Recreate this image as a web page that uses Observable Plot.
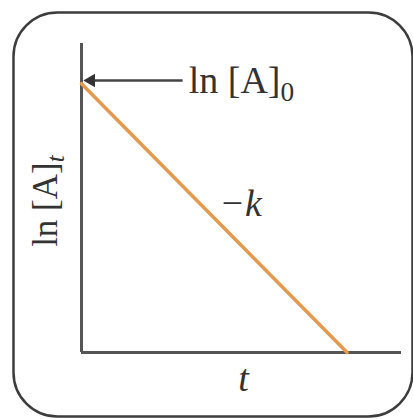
<!DOCTYPE html>
<html>
<head>
<meta charset="utf-8">
<script src="https://cdn.jsdelivr.net/npm/d3@7"></script>
<script src="https://cdn.jsdelivr.net/npm/@observablehq/plot@0.6"></script>
<style>
  html, body { margin: 0; padding: 0; background: #fff; }
</style>
</head>
<body>
<div id="chart"></div>
<script>
// Data: first-order kinetics, ln[A]t vs t (schematic, unitless)
const tValues = [0, 0.83];
const lnAValues = [0.87, 0];
const axisExtent = [0, 1];
const arrowFrom = [0.316, 0.88];
const arrowTo = [0.03, 0.88];
const interceptLabel = ["ln [A]0"];
const slopeLabel = ["\u2212k"];
const xLabel = ["t"];
const yLabel = ["ln [A]t"];

const line = tValues.map((t, i) => ({t, v: lnAValues[i]}));
const font = "Liberation Serif, Times New Roman, serif";
const axisColor = "#555";

const plot = Plot.plot({
  width: 413,
  height: 419,
  marginLeft: 13,
  marginRight: 1,
  marginTop: 12,
  marginBottom: 3,
  style: {fontFamily: font, background: "#fff"},
  x: {domain: axisExtent, insetLeft: 68, insetRight: 11, axis: null},
  y: {domain: axisExtent, insetTop: 31, insetBottom: 64, axis: null},
  marks: [
    Plot.frame({rx: 44, stroke: "#3d3d3d", strokeWidth: 2.5}),
    Plot.ruleX([axisExtent[0]], {y1: axisExtent[0], y2: axisExtent[1], stroke: axisColor, strokeWidth: 3}),
    Plot.ruleY([axisExtent[0]], {x1: axisExtent[0], x2: axisExtent[1], stroke: axisColor, strokeWidth: 3}),
    Plot.line(line, {x: "t", y: "v", stroke: "#e39a4e", strokeWidth: 3.5}),
    Plot.link([0], {x1: () => arrowFrom[0], y1: () => arrowFrom[1], x2: () => arrowTo[0], y2: () => arrowTo[1], stroke: "#444", strokeWidth: 2.5}),
    Plot.dot([0], {x: () => arrowTo[0], y: () => arrowTo[1], symbol: "triangle", r: 5, rotate: -90, fill: "#333", stroke: null}),
    Plot.text(interceptLabel, {x: 0.335, y: 0.88, text: d => d, textAnchor: "start", fontSize: 38, fill: "#333"}),
    Plot.text(slopeLabel, {x: 0.497, y: 0.482, text: d => d, fontSize: 38, fontStyle: "italic", fill: "#333"}),
    Plot.text(xLabel, {x: 0.506, y: -0.085, text: d => d, fontSize: 38, fontStyle: "italic", fill: "#333"}),
    Plot.text(yLabel, {x: -0.112, y: 0.49, text: d => d, fontSize: 35, rotate: -90, fill: "#333"})
  ]
});

// Subscripts as real text (tspans)
plot.querySelectorAll("text").forEach(el => {
  const s = el.textContent;
  if (s === interceptLabel[0] || s === yLabel[0]) {
    const base = s.slice(0, -1), sub = s.slice(-1);
    el.textContent = base;
    const ts = document.createElementNS("http://www.w3.org/2000/svg", "tspan");
    ts.setAttribute("font-size", "0.72em");
    ts.setAttribute("dy", "0.3em");
    if (sub === "t") ts.setAttribute("font-style", "italic");
    ts.textContent = sub;
    el.appendChild(ts);
  }
});

document.getElementById("chart").appendChild(plot);
</script>
</body>
</html>
